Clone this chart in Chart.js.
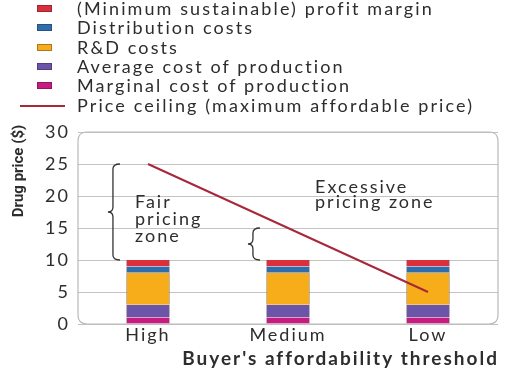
<!DOCTYPE html>
<html>
<head>
<meta charset="utf-8">
<script src="https://cdn.jsdelivr.net/npm/chart.js@4/dist/chart.umd.min.js"></script>
<style>
    body { margin: 0; background: #fff; }
    #wrap { position: relative; width: 512px; height: 369px; }
    #legend { position: absolute; left: 0; top: 0; width: 512px; font-family: Lato, sans-serif; font-size: 18px; color: #2d2d2d; letter-spacing: 2.1px; }
    #legend .item { position: absolute; left: 0; height: 19px; line-height: 19px; white-space: nowrap; }
    #legend .box { position: absolute; top: 6px; width: 15px; height: 7px; box-sizing: border-box; }
    #legend .line { position: absolute; top: 9px; left: 20px; width: 45px; height: 2px; }
    #legend .txt { position: absolute; left: 77px; top: 0; }
</style>
</head>
<body>
<div id="wrap">
    <canvas id="myChart" width="512" height="369"></canvas>
    <div id="legend"></div>
</div>
<script>
// datos
const categorias = ['High', 'Medium', 'Low'];
const costoMarginal = [1, 1, 1];
const costoPromedio = [2, 2, 2];
const costoID = [5, 5, 5];
const costoDistribucion = [1, 1, 1];
const margenGanancia = [1, 1, 1];
const techoPrecio = [25, 15, 5];
const ticksY = [0, 5, 10, 15, 20, 25, 30];

const colores = {
    marginal: '#c81b7f',
    promedio: '#6a55a8',
    id: '#f7ac1a',
    distribucion: '#2d6fae',
    margen: '#d9303b',
    techo: '#a8283a'
};

function barra(label, data, color) {
    return {
        label: label,
        data: data,
        backgroundColor: color,
        borderColor: 'rgba(60, 40, 60, 0.35)',
        borderWidth: { left: 1, right: 1 },
        borderSkipped: false,
        stack: 'costos',
        order: 1,
        categoryPercentage: 1,
        barPercentage: 0.315
    };
}

// borde redondeado, llaves, textos de las zonas y titulos de ejes
const zonasPlugin = {
    id: 'zonas',
    beforeDraw(chart) {
        chart.ctx.letterSpacing = '2px';
    },
    beforeDatasetsDraw(chart) {
        const ctx = chart.ctx;
        const a = chart.chartArea;
        ctx.save();
        ctx.strokeStyle = '#b9b9b9';
        ctx.lineWidth = 1.2;
        const r = 9;
        ctx.beginPath();
        ctx.moveTo(a.left + r, a.top);
        ctx.lineTo(a.right - r, a.top);
        ctx.quadraticCurveTo(a.right, a.top, a.right, a.top + r);
        ctx.lineTo(a.right, a.bottom - r);
        ctx.quadraticCurveTo(a.right, a.bottom, a.right - r, a.bottom);
        ctx.lineTo(a.left + r, a.bottom);
        ctx.quadraticCurveTo(a.left, a.bottom, a.left, a.bottom - r);
        ctx.lineTo(a.left, a.top + r);
        ctx.quadraticCurveTo(a.left, a.top, a.left + r, a.top);
        ctx.stroke();
        ctx.restore();
    },
    afterDatasetsDraw(chart) {
        const ctx = chart.ctx;
        const x = chart.scales.x;
        const y = chart.scales.y;
        const anchoBarra = chart.getDatasetMeta(1).data[0].width;
        ctx.save();
        ctx.strokeStyle = '#333';
        ctx.lineWidth = 1.3;
        [0, 1].forEach(function (i) {
            const bx = x.getPixelForValue(i) - anchoBarra / 2 - 13;
            const y1 = y.getPixelForValue(techoPrecio[i]);
            const y2 = y.getPixelForValue(10);
            const ym = (y1 + y2) / 2;
            const w = 5;
            ctx.beginPath();
            ctx.moveTo(bx + w + 2, y1);
            ctx.quadraticCurveTo(bx, y1, bx, y1 + w);
            ctx.lineTo(bx, ym - w);
            ctx.quadraticCurveTo(bx, ym, bx - w, ym);
            ctx.quadraticCurveTo(bx, ym, bx, ym + w);
            ctx.lineTo(bx, y2 - w);
            ctx.quadraticCurveTo(bx, y2, bx + w + 2, y2);
            ctx.stroke();
        });
        ctx.fillStyle = '#2d2d2d';
        ctx.font = '18px Lato';
        ctx.letterSpacing = '2px';
        ctx.textBaseline = 'middle';
        ctx.textAlign = 'left';
        const fx = x.getPixelForValue(0) - 13;
        ctx.fillText('Fair', fx, y.getPixelForValue(19.1));
        ctx.fillText('pricing', fx, y.getPixelForValue(16.4));
        ctx.fillText('zone', fx, y.getPixelForValue(13.7));
        const ex = x.getPixelForValue(1) + 27;
        ctx.fillText('Excessive', ex, y.getPixelForValue(21.4));
        ctx.fillText('pricing zone', ex, y.getPixelForValue(19.0));
        ctx.restore();
    },
    afterDraw(chart) {
        const ctx = chart.ctx;
        const a = chart.chartArea;
        ctx.save();
        ctx.fillStyle = '#2d2d2d';
        ctx.textBaseline = 'middle';
        // titulo eje x
        ctx.font = 'bold 19px Lato';
        ctx.letterSpacing = '2px';
        ctx.textAlign = 'right';
        ctx.fillText("Buyer's affordability threshold", a.right + 1, 359);
        // titulo eje y
        ctx.font = 'bold 15px Roboto';
        ctx.letterSpacing = '0px';
        ctx.textAlign = 'center';
        ctx.translate(19, 171);
        ctx.rotate(-Math.PI / 2);
        ctx.fillText('Drug price ($)', 0, 0);
        ctx.restore();
    }
};

document.addEventListener('DOMContentLoaded', function () {
    var ctx = document.getElementById('myChart').getContext('2d');
    var chart = new Chart(ctx, {
        type: 'bar',
        data: {
            labels: categorias,
            datasets: [
                {
                    type: 'line',
                    label: 'Price ceiling (maximum affordable price)',
                    data: techoPrecio,
                    borderColor: colores.techo,
                    borderWidth: 2,
                    pointRadius: 0,
                    stack: 'techo',
                    order: 0
                },
                barra('Marginal cost of production', costoMarginal, colores.marginal),
                barra('Average cost of production', costoPromedio, colores.promedio),
                barra('R&D costs', costoID, colores.id),
                barra('Distribution costs', costoDistribucion, colores.distribucion),
                barra('(Minimum sustainable) profit margin', margenGanancia, colores.margen)
            ]
        },
        options: {
            responsive: false,
            animation: false,
            layout: { padding: { top: 132, right: 14, left: 0, bottom: 0 } },
            plugins: {
                legend: { display: false },
                tooltip: { enabled: false }
            },
            scales: {
                x: {
                    stacked: true,
                    grid: { display: false, drawTicks: false },
                    border: { display: false },
                    ticks: { color: '#2d2d2d', font: { family: 'Lato', size: 18 }, padding: 0 },
                    afterFit: function (scale) { scale.height = 45; }
                },
                y: {
                    stacked: true,
                    min: 0,
                    max: 30,
                    afterBuildTicks: function (scale) {
                        scale.ticks = ticksY.map(function (v) { return { value: v }; });
                    },
                    grid: { color: '#c4c4c4', lineWidth: 1, drawTicks: false },
                    border: { display: false },
                    ticks: { color: '#2d2d2d', font: { family: 'Lato', size: 18 }, padding: 8 },
                    afterFit: function (scale) { scale.width = 78; }
                }
            }
        },
        plugins: [zonasPlugin]
    });

    // leyenda en html, una fila por serie
    const orden = [5, 4, 3, 2, 1, 0];
    const legend = document.getElementById('legend');
    orden.forEach(function (idx, fila) {
        const ds = chart.data.datasets[idx];
        const item = document.createElement('div');
        item.className = 'item';
        item.style.top = (fila * 19.3 - 1) + 'px';
        const marca = document.createElement('div');
        if (ds.type === 'line') {
            marca.className = 'line';
            marca.style.background = ds.borderColor;
        } else {
            marca.className = 'box';
            marca.style.left = '37px';
            marca.style.background = ds.backgroundColor;
            marca.style.border = '1px solid rgba(40,20,40,0.35)';
        }
        const txt = document.createElement('span');
        txt.className = 'txt';
        txt.textContent = ds.label;
        item.appendChild(marca);
        item.appendChild(txt);
        legend.appendChild(item);
    });
});
</script>
</body>
</html>
